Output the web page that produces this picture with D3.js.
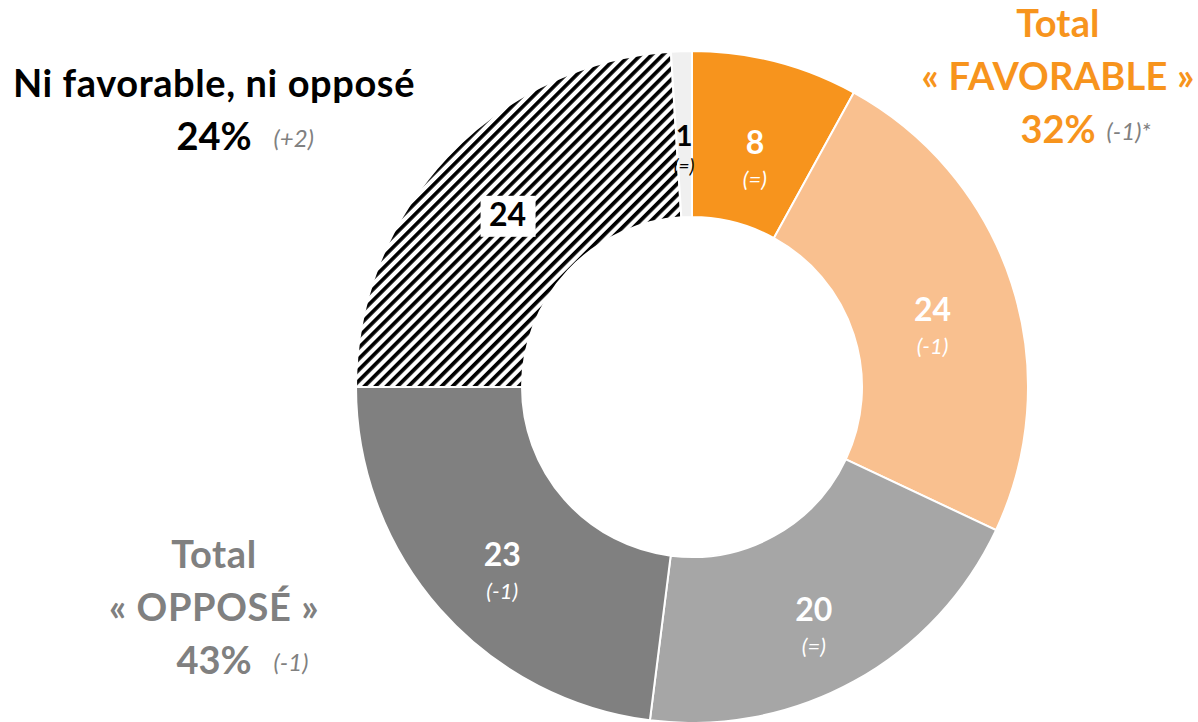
<!DOCTYPE html>
<html>
<head>
<meta charset="utf-8">
<script src="https://cdn.jsdelivr.net/npm/d3@7"></script>
<style>
  body { margin: 0; background: #fff; }
  svg { display: block; font-family: Lato, "Open Sans", sans-serif; }
</style>
</head>
<body>
<svg id="chart" width="1198" height="722"></svg>
<script>
// Slices, clockwise from the top
const sliceKeys = ["tres", "plutot", "plutotPas", "pasDuTout", "ni", "nsp"];
const sliceValues = [8, 24, 20, 23, 24, 1];
const sliceDeltas = ["(=)", "(-1)", "(=)", "(-1)", "", "(=)"];
const sliceColors = ["#F7941D", "#F9C08F", "#A6A6A6", "#808080", "url(#hatch)", "#F0F0F0"];
const labelColors = ["#fff", "#fff", "#fff", "#fff", "#000", "#000"];

// Totals shown around the donut
const totalLines = [
    ["Ni favorable, ni opposé"],
    ["Total", "« FAVORABLE »"],
    ["Total", "« OPPOSÉ »"]
];
const totalValues = ["24%", "32%", "43%"];
const totalDeltas = ["(+2)", "(-1)*", "(-1)"];
const totalColors = ["#000", "#F7941D", "#808080"];

const dimensions = {
    width: 1198,
    height: 722,
    cx: 692,
    cy: 387,
    outer: 336,
    inner: 170
};

const svg = d3.select("#chart");

// Hatch pattern for the neutral slice
const defs = svg.append("defs");
const pattern = defs.append("pattern")
    .attr("id", "hatch")
    .attr("patternUnits", "userSpaceOnUse")
    .attr("width", 7.8)
    .attr("height", 7.8)
    .attr("patternTransform", "rotate(45)");
pattern.append("rect").attr("width", 7.8).attr("height", 7.8).attr("fill", "#fff");
pattern.append("rect").attr("x", 0).attr("width", 3.7).attr("height", 7.8).attr("fill", "#000");

const pie = d3.pie().sort(null).value(d => d.value);
const data = sliceKeys.map((k, i) => ({ key: k, value: sliceValues[i], delta: sliceDeltas[i], i: i }));
const arcs = pie(data);

const arc = d3.arc().innerRadius(dimensions.inner).outerRadius(dimensions.outer);
const labelArc = d3.arc().innerRadius((dimensions.inner + dimensions.outer) / 2)
    .outerRadius((dimensions.inner + dimensions.outer) / 2);

const g = svg.append("g").attr("transform", `translate(${dimensions.cx},${dimensions.cy})`);

g.selectAll("path")
    .data(arcs)
    .enter()
    .append("path")
    .attr("d", arc)
    .attr("fill", d => sliceColors[d.data.i])
    .attr("stroke", "#fff")
    .attr("stroke-width", 2);

// Slice labels
arcs.forEach(d => {
    const [x, y] = labelArc.centroid(d);
    const i = d.data.i;
    const small = d.data.key === "nsp";
    if (d.data.key === "ni") {
        g.append("rect")
            .attr("x", x - 27)
            .attr("y", y - 18)
            .attr("width", 55)
            .attr("height", 41)
            .attr("fill", "#fff");
    }
    g.append("text")
        .attr("x", x)
        .attr("y", y + 12)
        .attr("text-anchor", "middle")
        .style("font-size", small ? "29px" : "32px")
        .style("font-weight", "bold")
        .attr("fill", labelColors[i])
        .text(d.data.value);
    if (d.data.delta) {
        g.append("text")
            .attr("x", x)
            .attr("y", y + (small ? 39 : 45))
            .attr("text-anchor", "middle")
            .style("font-size", small ? "19px" : "22px")
            .style("font-style", "italic")
            .attr("fill", labelColors[i])
            .text(d.data.delta);
    }
});

// Totals
const totalPos = [
    { x: 214, y: 97, gap: 22 },
    { x: 1058, y: 37, gap: 11 },
    { x: 214, y: 568, gap: 22 }
];

totalLines.forEach((lines, i) => {
    const p = totalPos[i];
    lines.forEach((line, j) => {
        svg.append("text")
            .attr("x", p.x)
            .attr("y", p.y + j * 53)
            .attr("text-anchor", "middle")
            .style("font-size", "38px")
            .style("font-weight", "bold")
            .style("letter-spacing", i === 1 ? "0.2px" : "0.6px")
            .attr("fill", totalColors[i])
            .text(line);
    });
    const vy = p.y + lines.length * 53;
    const t = svg.append("text")
        .attr("x", p.x)
        .attr("y", vy)
        .attr("text-anchor", "middle")
        .style("font-size", "38px")
        .style("font-weight", "bold")
        .attr("fill", totalColors[i])
        .text(totalValues[i]);
    const w = t.node().getComputedTextLength();
    svg.append("text")
        .attr("x", p.x + w / 2 + p.gap)
        .attr("y", vy - 3)
        .style("font-size", "24px")
        .style("font-style", "italic")
        .attr("fill", "#808080")
        .text(totalDeltas[i]);
});
</script>
</body>
</html>
